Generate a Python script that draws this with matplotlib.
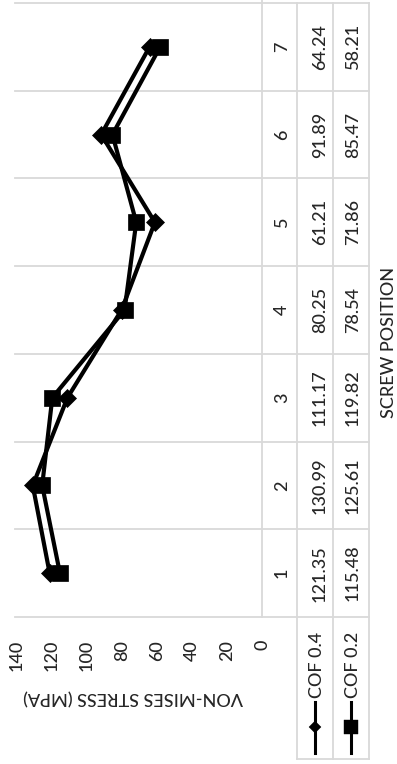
import matplotlib.pyplot as plt
from matplotlib.transforms import blended_transform_factory

# Von-Mises stress per screw position for two friction coefficients
positions = [1, 2, 3, 4, 5, 6, 7]
cof_04 = [121.35, 130.99, 111.17, 80.25, 61.21, 91.89, 64.24]
cof_02 = [115.48, 125.61, 119.82, 78.54, 71.86, 85.47, 58.21]
series_names = ['COF 0.4', 'COF 0.2']
value_ticks = [0, 20, 40, 60, 80, 100, 120, 140]

W, H = 397, 764
plt.rcParams['font.family'] = ['Lato', 'DejaVu Sans']
plt.rcParams['font.weight'] = 'medium'
txt = '#262626'
grid = '#d9d9d9'
fs = 13

fig = plt.figure(figsize=(W / 100, H / 100), dpi=100)

# full-figure layer in pixel units for the data table and titles
bg = fig.add_axes([0, 0, 1, 1], zorder=0)
bg.set_xlim(0, W)
bg.set_ylim(H, 0)
bg.axis('off')

# plot area: value axis runs right-to-left, positions bottom-to-top
x0, x1, y0, y1 = 17, 262, 3, 617
ax = fig.add_axes([x0 / W, 1 - y1 / H, (x1 - x0) / W, (y1 - y0) / H], zorder=1)
ax.patch.set_visible(False)
ax.set_xlim(140, 0)
ax.set_ylim(0.5, 7.5)
for s in ax.spines.values():
    s.set_visible(False)
ax.set_yticks([])
ax.set_xticks(value_ticks)
ax.tick_params(axis='x', length=0, pad=16.5, labelsize=fs, labelcolor=txt,
               labelrotation=90)

ax.plot(cof_04, positions, color='black', lw=3, marker='D', ms=9, mew=0.5,
        clip_on=False, zorder=3)
ax.plot(cof_02, positions, color='black', lw=3, marker='s', ms=11, mew=0.5,
        clip_on=False, zorder=3)

# table grid: pixel x, category y
tr = blended_transform_factory(bg.transData, ax.transData)
for k in range(len(positions) + 1):
    bg.plot([15, 369], [k + 0.5, k + 0.5], color=grid, lw=1.3, transform=tr)
bg.plot([262, 262], [0, 617], color=grid, lw=1.3)
for xv in [297, 333, 369]:
    bg.plot([xv, xv], [3, 759], color=grid, lw=1.3)
bg.plot([297, 369], [759, 759], color=grid, lw=1.3)

# table text
for p, a, b in zip(positions, cof_04, cof_02):
    bg.text(282, p, str(p), transform=tr, rotation=90, rotation_mode='anchor',
            ha='center', va='center', fontsize=fs, color=txt)
    bg.text(320, p, f'{a:.2f}', transform=tr, rotation=90, rotation_mode='anchor',
            ha='center', va='center', fontsize=fs, color=txt)
    bg.text(353, p, f'{b:.2f}', transform=tr, rotation=90, rotation_mode='anchor',
            ha='center', va='center', fontsize=fs, color=txt)

# row headers with legend keys
for xc, name, mk, msz in [(315, series_names[0], 'D', 6.6), (351, series_names[1], 's', 9.5)]:
    bg.plot([xc, xc], [702, 753], color='black', lw=2.2)
    bg.plot([xc], [727], color='black', marker=mk, ms=msz, mew=0.3)
    bg.text(xc + 2, 698, name, rotation=90, rotation_mode='anchor',
            ha='left', va='center', fontsize=fs, color=txt)

# axis titles
bg.text(133, 697, 'VON-MISES STRESS (MPA)', rotation=180, ha='center', va='center',
        fontsize=fs, color=txt)
bg.text(389, 342, 'SCREW POSITION', rotation=90, ha='center', va='center',
        fontsize=fs, color=txt)

fig.savefig('out.png', dpi=100)
